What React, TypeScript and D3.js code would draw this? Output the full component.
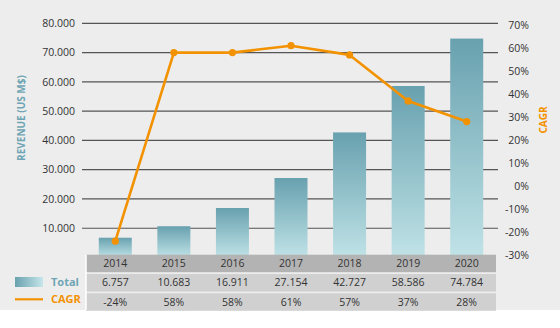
import React from "react";
import * as d3 from "d3";

const years = ["2014", "2015", "2016", "2017", "2018", "2019", "2020"];
const totals = [6757, 10683, 16911, 27154, 42727, 58586, 74784];
const totalLabels = ["6.757", "10.683", "16.911", "27.154", "42.727", "58.586", "74.784"];
const cagr = [-24, 58, 58, 61, 57, 37, 28];
const leftTicks = [10000, 20000, 30000, 40000, 50000, 60000, 70000, 80000];
const rightTicks = [-30, -20, -10, 0, 10, 20, 30, 40, 50, 60, 70];

const W = 560;
const H = 328;
const ORANGE = "#f39200";
const TEAL_TEXT = "#6ea5b4";
const FONT = "'Open Sans', sans-serif";

export default function App() {
  const x = d3.scaleBand<string>().domain(years).range([86, 496]).paddingInner(0.44).paddingOuter(0.22);
  const step = 410 / years.length;
  const colX = (i: number) => 86 + step * i + step / 2;
  const yL = d3.scaleLinear().domain([0, 80000]).range([257.5, 23.3]);
  const yR = d3.scaleLinear().domain([-30, 70]).range([255, 25]);
  const fmt = (v: number) => d3.format(",")(v).replace(/,/g, ".");
  const bw = 33;

  const line = d3
    .line<number>()
    .x((_, i) => colX(i))
    .y((d) => yR(d));

  const tableTop = 254.7;
  const rowH = [17.5, 17.5, 17.5];
  const rowY = [tableTop, tableTop + 19.3, tableTop + 38.6];

  return (
    <svg width={W} height={H} style={{ position: "absolute", left: 0, top: 0 }} fontFamily={FONT}>
      <defs>
        <linearGradient id="barGrad" x1="0" y1="0" x2="0" y2="1">
          <stop offset="0" stopColor="#68a1af" />
          <stop offset="1" stopColor="#c0e3e7" />
        </linearGradient>
        <linearGradient id="legGrad" x1="0" y1="0" x2="1" y2="0">
          <stop offset="0" stopColor="#68a1af" />
          <stop offset="1" stopColor="#c6e6e9" />
        </linearGradient>
      </defs>
      <rect x={0} y={0} width={W} height={H} fill="#ffffff" />
      <rect x={0} y={0} width={W} height={310} fill="#ededed" />

      {leftTicks.map((t) => (
        <line key={t} x1={82} x2={498} y1={yL(t)} y2={yL(t)} stroke="#555" strokeWidth={1.2} />
      ))}
      {leftTicks.map((t) => (
        <text key={"l" + t} x={75} y={yL(t)} dy="0.35em" textAnchor="end" fontSize={10.5} fill="#333">
          {fmt(t)}
        </text>
      ))}
      {rightTicks.map((t) => (
        <text key={"r" + t} x={529} y={yR(t)} dy="0.35em" textAnchor="end" fontSize={10.5} fill="#333">
          {t + "%"}
        </text>
      ))}

      {totals.map((v, i) => (
        <rect
          key={years[i]}
          x={colX(i) - bw / 2}
          y={yL(v)}
          width={bw}
          height={yL(0) - yL(v)}
          fill="url(#barGrad)"
        />
      ))}

      {/* table */}
      <rect x={86} y={rowY[0]} width={410} height={rowH[0]} fill="#b3b3b3" />
      <rect x={86} y={rowY[1]} width={410} height={rowH[1]} fill="#d0d0d0" />
      <rect x={86} y={rowY[2]} width={410} height={rowH[2]} fill="#d0d0d0" />
      <line x1={86} x2={86} y1={rowY[0]} y2={310} stroke="#ffffff" strokeWidth={1.5} />
      {years.map((yr, i) => (
        <g key={"t" + yr}>
          <text x={colX(i)} y={rowY[0] + rowH[0] / 2} dy="0.35em" textAnchor="middle" fontSize={10.5} fill="#333">
            {yr}
          </text>
          <text x={colX(i)} y={rowY[1] + rowH[1] / 2} dy="0.35em" textAnchor="middle" fontSize={10.5} fill="#333">
            {totalLabels[i]}
          </text>
          <text x={colX(i)} y={rowY[2] + rowH[2] / 2} dy="0.35em" textAnchor="middle" fontSize={10.5} fill="#333">
            {cagr[i] + "%"}
          </text>
        </g>
      ))}

      <path d={line(cagr) || ""} fill="none" stroke={ORANGE} strokeWidth={2.6} strokeLinejoin="round" />
      {cagr.map((v, i) => (
        <circle key={"c" + i} cx={colX(i)} cy={yR(v)} r={3.6} fill={ORANGE} />
      ))}

      {/* legend */}
      <rect x={15} y={277} width={28} height={10} fill="url(#legGrad)" />
      <text x={51} y={282} dy="0.35em" fontSize={11} fontWeight="bold" fill={TEAL_TEXT}>
        Total
      </text>
      <line x1={15} x2={43} y1={299.3} y2={299.3} stroke={ORANGE} strokeWidth={2.2} />
      <text x={51} y={299.5} dy="0.35em" fontSize={11} fontWeight="bold" fill={ORANGE}>
        CAGR
      </text>

      {/* axis titles */}
      <text
        transform={`translate(21,118) rotate(-90)`}
        textAnchor="middle"
        dy="0.35em"
        fontSize={10}
        fontWeight="bold"
        fill={TEAL_TEXT}
      >
        REVENUE (US M$)
      </text>
      <text
        transform={`translate(543,120) rotate(-90)`}
        textAnchor="middle"
        dy="0.35em"
        fontSize={10}
        fontWeight="bold"
        fill={ORANGE}
      >
        CAGR
      </text>
    </svg>
  );
}
